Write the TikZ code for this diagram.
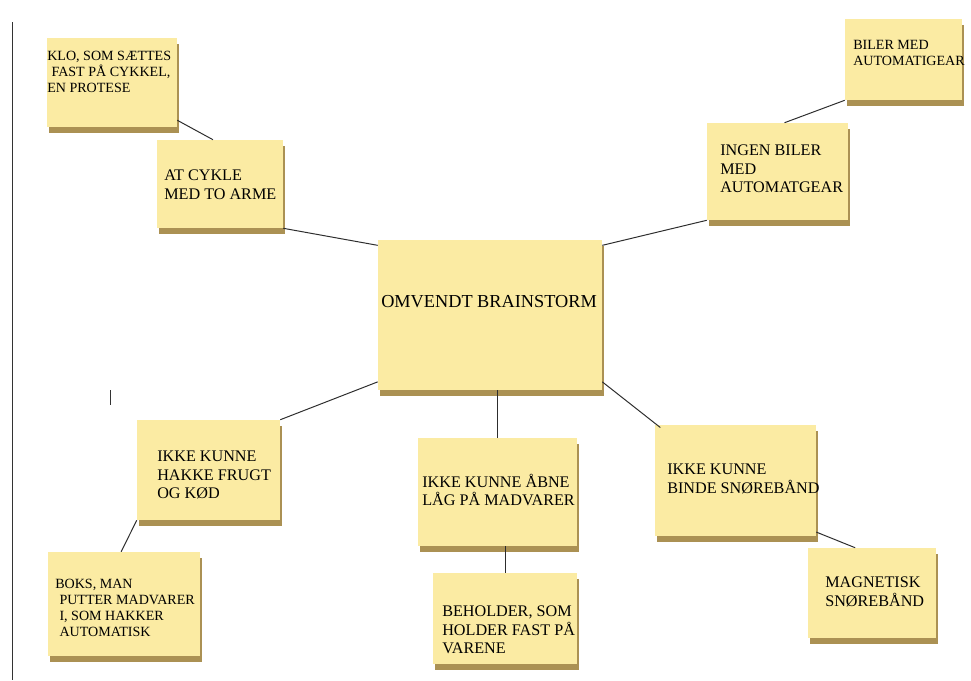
\documentclass[tikz,border=0pt]{standalone}
\usepackage{fontspec}
\setmainfont{Liberation Serif}
\usepackage{tikz}
\usetikzlibrary{shadows}

\definecolor{notefill}{RGB}{251,235,163}
\definecolor{noteshade}{RGB}{150,118,40}
\definecolor{linkgray}{RGB}{45,45,45}

\tikzset{
  note/.style={rectangle, fill=notefill, inner sep=0pt,
    drop shadow={fill=noteshade, opacity=0.8, shadow xshift=1.2pt, shadow yshift=-4pt}},
  txt/.style={anchor=west, align=left, inner sep=0pt, text=black,
    font=\fontsize{11.5}{13.3}\selectfont},
  smalltxt/.style={txt, font=\fontsize{10}{11.4}\selectfont},
  link/.style={draw=linkgray, line width=0.7pt}
}

\begin{document}
\begin{tikzpicture}[x=0.025cm, y=-0.025cm]
\useasboundingbox[fill=white] (0,0) rectangle (971,680);

% margin line and cursor
\draw[line width=0.6pt, black!80] (12,22) -- (12,680);
\draw[line width=0.6pt, black!80] (110,390) -- (110,405);

% the notes
\node[note, minimum width=5.6cm, minimum height=3.75cm] (brain) at (490,315) {};
\node[note, minimum width=3.15cm, minimum height=2.2cm] (cykle) at (220,184) {};
\node[note, minimum width=3.25cm, minimum height=2.225cm] (klo) at (112,82.5) {};
\node[note, minimum width=3.525cm, minimum height=2.425cm] (ingen) at (777.5,171.5) {};
\node[note, minimum width=2.925cm, minimum height=2.025cm] (biler) at (903.5,59.5) {};
\node[note, minimum width=3.575cm, minimum height=2.5cm] (hakke) at (208.5,470) {};
\node[note, minimum width=3.8cm, minimum height=2.6cm] (boks) at (124,604) {};
\node[note, minimum width=3.975cm, minimum height=2.7cm] (aabne) at (497.5,492) {};
\node[note, minimum width=3.6cm, minimum height=2.275cm] (beholder) at (505,618.5) {};
\node[note, minimum width=4.025cm, minimum height=2.775cm] (binde) at (735.5,480.5) {};
\node[note, minimum width=3.2cm, minimum height=2.25cm] (magnet) at (872,593) {};

% texts on the notes
\node[txt, font=\fontsize{13}{15}\selectfont] (braintxt) at (381,302) {OMVENDT BRAINSTORM};
\node[txt] (cykletxt) at (164,185) {AT CYKLE\\MED TO ARME};
\node[smalltxt] (klotxt) at (47,72) {KLO, SOM SÆTTES\\\hspace*{3pt}FAST PÅ CYKKEL,\\EN PROTESE};
\node[txt] (ingentxt) at (720,169) {INGEN BILER\\MED\\AUTOMATGEAR};
\node[smalltxt] (bilertxt) at (853,53) {BILER MED\\AUTOMATIGEAR};
\node[txt] (hakketxt) at (157,475) {IKKE KUNNE\\HAKKE FRUGT\\OG KØD};
\node[smalltxt] (bokstxt) at (55,608) {BOKS, MAN\\\hspace*{3pt}PUTTER MADVARER\\\hspace*{3pt}I, SOM HAKKER\\\hspace*{3pt}AUTOMATISK};
\node[txt] (aabnetxt) at (422,490) {IKKE KUNNE ÅBNE\\LÅG PÅ MADVARER};
\node[txt] (beholdertxt) at (442,630) {BEHOLDER, SOM\\HOLDER FAST PÅ\\VARENE};
\node[txt] (bindetxt) at (667,479) {IKKE KUNNE\\BINDE SNØREBÅND};
\node[txt] (magnettxt) at (825,592) {MAGNETISK\\SNØREBÅND};

% connectors
\draw[link] ([yshift=5]klo.south east) -- ([xshift=-5]cykle.north);
\draw[link] (cykle.south east) -- ([yshift=-4]brain.north west);
\draw[link] ([xshift=5]ingen.north) -- (biler.south west);
\draw[link] (ingen.south west) -- ([yshift=-4]brain.north east);
\draw[link] ([yshift=6]brain.south west) -- (hakke.north east);
\draw[link] (hakke.south west) -- ([xshift=-2]boks.north);
\draw[link] (brain.south -| aabne.north) -- (aabne.north);
\draw[link] (aabne.south -| beholder.north) -- (beholder.north);
\draw[link] ([yshift=6]brain.south east) -- ([xshift=4,yshift=-2]binde.north west);
\draw[link] ([yshift=3]binde.south east) -- ([xshift=-12]magnet.north);
\end{tikzpicture}
\end{document}
